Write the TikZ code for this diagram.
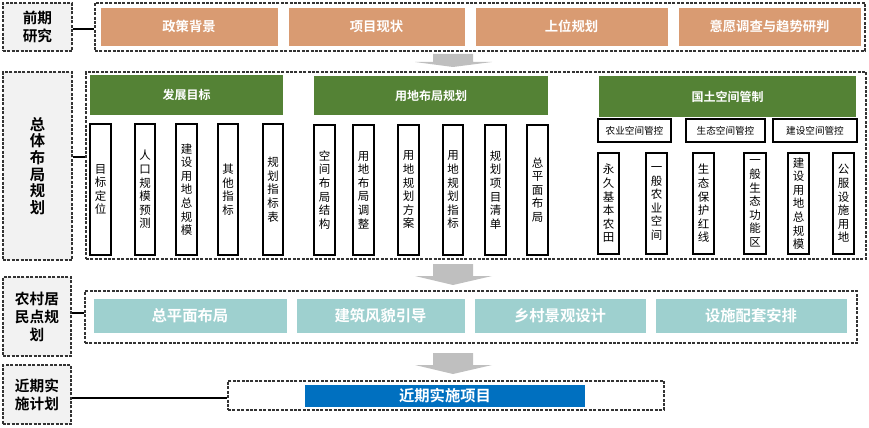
\documentclass[tikz,border=0pt]{standalone}
\usepackage{fontspec}
\setmainfont{Noto Sans CJK SC}[BoldFont={Noto Sans CJK SC Bold}]
\definecolor{orangec}{HTML}{D99B72}
\definecolor{greenc}{HTML}{548235}
\definecolor{tealc}{HTML}{9ED0CF}
\definecolor{bluec}{HTML}{0070C0}
\definecolor{labfill}{HTML}{F2F2F2}
\definecolor{arrowgray}{HTML}{BFBFBF}
\definecolor{dashc}{HTML}{333333}
\tikzset{
  rect/.style n args={4}{at={({(#1+#3)/2},{(#2+#4)/2})}, anchor=center,
    minimum width={(#3-#1)*0.75pt}, minimum height={(#4-#2)*0.75pt}},
  dbox/.style={draw=dashc, dash pattern=on 2.2pt off 1.1pt, line width=0.9pt, inner sep=0pt},
  lab/.style={dbox, fill=labfill, align=center, font=\bfseries\fontsize{11}{13.5}\selectfont},
  ora/.style={fill=orangec, draw=white, line width=0.6pt, inner sep=0pt, text=white, font=\bfseries\fontsize{10}{12}\selectfont},
  grn/.style={fill=greenc, inner sep=0pt, text=white, font=\bfseries\fontsize{9}{11}\selectfont},
  tall/.style={draw=black, line width=1pt, fill=white, inner sep=0pt, align=center, font=\fontsize{8.6}{10.2}\selectfont},
  subbox/.style={draw=black, line width=1pt, fill=white, inner sep=0pt, font=\fontsize{7.2}{9}\selectfont},
  tealbox/.style={fill=tealc, draw=white, line width=0.6pt, inner sep=0pt, text=white, font=\bfseries\fontsize{11.5}{13}\selectfont},
  blubox/.style={fill=bluec, inner sep=0pt, text=white, font=\bfseries\fontsize{11.5}{13}\selectfont},
  conn/.style={draw=black, line width=1pt},
  garrow/.style={fill=arrowgray, draw=none}
}
\begin{document}
\begin{tikzpicture}[x=0.75pt,y=-0.75pt]
\useasboundingbox (0,0) rectangle (869,428);
% ---------- Row 1
\node[lab, rect={3}{3}{72}{51}] (l1) {前期\\研究};
\node[dbox, rect={95}{3}{865}{51}] (o1) {};
\node[ora, rect={100}{7}{278}{46}] (a1) {政策背景};
\node[ora, rect={288}{7}{465}{46}] (a2) {项目现状};
\node[ora, rect={475}{7}{668}{46}] (a3) {上位规划};
\node[ora, rect={678}{7}{861}{46}] (a4) {意愿调查与趋势研判};
\coordinate (c1) at (80,29);
\draw[conn] (c1 -| l1.east) -- (c1 -| o1.west);
% arrow 1
\fill[garrow] (433,54) -- (473,54) -- (473,62) -- (492,62) -- (453,67) -- (415,62) -- (433,62) -- cycle;
% ---------- Row 2
\node[lab, rect={3}{72}{72}{260}, font=\bfseries\fontsize{11.5}{12.5}\selectfont] (l2) {总\\体\\布\\局\\规\\划};
\node[dbox, rect={86}{72}{866}{259}] (o2) {};
\coordinate (c2) at (80,157);
\draw[conn] (c2 -| l2.east) -- (c2 -| o2.west);
\node[grn, rect={90}{75}{283}{115}] (g1) {发展目标};
\node[grn, rect={314}{76}{548}{115}] (g2) {用地布局规划};
\node[grn, rect={599}{76}{856}{117}] (g3) {国土空间管制};
% group 1
\node[tall, rect={90}{124}{111}{255}] (t11) {目\\标\\定\\位};
\node[tall, rect={135}{124}{155}{255}] (t12) {人\\口\\规\\模\\预\\测};
\node[tall, rect={176}{124}{197}{255}] (t13) {建\\设\\用\\地\\总\\规\\模};
\node[tall, rect={218}{124}{238}{255}] (t14) {其\\他\\指\\标};
\node[tall, rect={263}{124}{283}{255}] (t15) {规\\划\\指\\标\\表};
% group 2
\node[tall, rect={314}{125}{335}{255}] (t21) {空\\间\\布\\局\\结\\构};
\node[tall, rect={353}{125}{374}{255}] (t22) {用\\地\\布\\局\\调\\整};
\node[tall, rect={398}{125}{419}{255}] (t23) {用\\地\\规\\划\\方\\案};
\node[tall, rect={443}{125}{463}{255}] (t24) {用\\地\\规\\划\\指\\标};
\node[tall, rect={485}{125}{506}{255}] (t25) {规\\划\\项\\目\\清\\单};
\node[tall, rect={527}{125}{548}{255}] (t26) {总\\平\\面\\布\\局};
% group 3
\node[subbox, rect={598}{119}{671}{142}] (s1) {农业空间管控};
\node[subbox, rect={686}{119}{765}{142}] (s2) {生态空间管控};
\node[subbox, rect={773}{119}{857}{142}] (s3) {建设空间管控};
\node[tall, rect={598}{153}{619}{254}] (t31) {永\\久\\基\\本\\农\\田};
\node[tall, rect={646}{153}{667}{254}] (t32) {一\\般\\农\\业\\空\\间};
\node[tall, rect={693}{153}{714}{254}] (t33) {生\\态\\保\\护\\红\\线};
\node[tall, rect={744}{153}{766}{254}] (t34) {一\\般\\生\\态\\功\\能\\区};
\node[tall, rect={788}{153}{809}{254}] (t35) {建\\设\\用\\地\\总\\规\\模};
\node[tall, rect={833}{153}{854}{254}] (t36) {公\\服\\设\\施\\用\\地};
% arrow 2
\fill[garrow] (433,264) -- (473,264) -- (473,276) -- (492,276) -- (453,285) -- (415,276) -- (433,276) -- cycle;
% ---------- Row 3
\node[lab, rect={3}{277}{71}{356}] (l3) {农村居\\民点规\\划};
\node[dbox, rect={85}{291}{857}{343}] (o3) {};
\coordinate (c3) at (78,313);
\draw[conn] (c3 -| l3.east) -- (c3 -| o3.west);
\node[tealbox, rect={93}{298}{287}{333}] (e1) {总平面布局};
\node[tealbox, rect={296}{298}{465}{333}] (e2) {建筑风貌引导};
\node[tealbox, rect={474}{298}{646}{333}] (e3) {乡村景观设计};
\node[tealbox, rect={655}{298}{847}{333}] (e4) {设施配套安排};
% arrow 3
\fill[garrow] (433,353) -- (473,353) -- (473,365) -- (492,365) -- (453,374) -- (415,365) -- (433,365) -- cycle;
% ---------- Row 4
\node[lab, rect={3}{365}{71}{424}] (l4) {近期实\\施计划};
\node[dbox, rect={228}{381}{664}{410}] (o4) {};
\coordinate (c4) at (150,398);
\draw[conn] (c4 -| l4.east) -- (c4 -| o4.west);
\node[blubox, rect={305}{385}{585}{407}] (b1) {近期实施项目};
\end{tikzpicture}
\end{document}
